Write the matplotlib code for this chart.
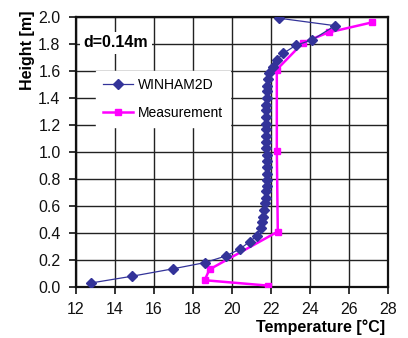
"""
Temperature profile: WINHAM2D vs measurement, d=0.14m
"""
import matplotlib
matplotlib.use("Agg")
import matplotlib.pyplot as plt

plt.rcParams['font.family'] = ['Liberation Sans', 'DejaVu Sans']

# WINHAM2D simulation (temperature [C], height [m])
sim_temp = [12.8, 14.9, 17.0, 18.6, 19.7, 20.4, 20.9, 21.26, 21.47, 21.55,
            21.6, 21.64, 21.7, 21.73, 21.75, 21.78, 21.8, 21.8, 21.8, 21.79,
            21.78, 21.77, 21.76, 21.75, 21.75, 21.75, 21.75, 21.76, 21.77,
            21.78, 21.8, 21.81, 21.84, 21.91, 22.08, 22.29, 22.63, 23.28,
            24.12, 25.28, 22.43]
sim_height = [0.03, 0.08, 0.135, 0.18, 0.23, 0.28, 0.335, 0.376, 0.44, 0.48,
              0.52, 0.57, 0.62, 0.66, 0.71, 0.75, 0.79, 0.84, 0.89, 0.93,
              0.98, 1.03, 1.07, 1.12, 1.17, 1.21, 1.26, 1.31, 1.35,
              1.40, 1.45, 1.49, 1.54, 1.585, 1.63, 1.68, 1.73, 1.79,
              1.83, 1.935, 1.99]

# measurement
meas_temp = [21.85, 18.6, 18.85, 22.35, 22.3, 22.3, 23.65, 24.95, 27.2]
meas_height = [0.01, 0.05, 0.13, 0.41, 1.01, 1.61, 1.81, 1.885, 1.96]

x_ticks = [12, 14, 16, 18, 20, 22, 24, 26, 28]
y_ticks = [0.0, 0.2, 0.4, 0.6, 0.8, 1.0, 1.2, 1.4, 1.6, 1.8, 2.0]

fig = plt.figure(figsize=(4.08, 3.38), dpi=100)
ax = fig.add_axes([0.186, 0.151, 0.765, 0.799])

ax.plot(sim_temp, sim_height, color='#333399', lw=0.9, marker='D',
        markersize=5, label='WINHAM2D', zorder=4)
ax.plot(meas_temp, meas_height, color='#FF00FF', lw=1.8, marker='s',
        markersize=5, label='Measurement', zorder=3)

ax.set_xlim(12, 28)
ax.set_ylim(0, 2.0)
ax.set_xticks(x_ticks)
ax.set_yticks(y_ticks)
ax.set_xticklabels([str(t) for t in x_ticks])
ax.set_yticklabels(['%.1f' % t for t in y_ticks])
ax.grid(True, color='#222222', lw=1.0)
ax.set_axisbelow(True)
for s in ax.spines.values():
    s.set_linewidth(1.6)
    s.set_color('#111111')
ax.tick_params(direction='out', length=5, width=1.2, labelsize=11.5,
               colors='#111111', pad=6)

fig.text(0.068, 0.85, 'Height [m]', rotation=90, fontsize=11.5,
         fontweight='bold', ha='center', va='center')
fig.text(0.785, 0.032, 'Temperature [°C]', fontsize=11.5, fontweight='bold',
         ha='center', va='center')

ax.text(0.025, 0.905, 'd=0.14m', transform=ax.transAxes, fontsize=11.5,
        fontweight='bold', va='center', ha='left', zorder=5,
        bbox=dict(facecolor='white', edgecolor='none', pad=2.5))

leg = ax.legend(loc='upper left', bbox_to_anchor=(0.064, 0.8), fontsize=10,
                frameon=True, fancybox=False, framealpha=1, edgecolor='white',
                handlelength=2.2, borderpad=0.5, borderaxespad=0.0,
                labelspacing=1.0, handletextpad=0.3)
leg.set_zorder(5)

plt.savefig('out.png', dpi=100)
